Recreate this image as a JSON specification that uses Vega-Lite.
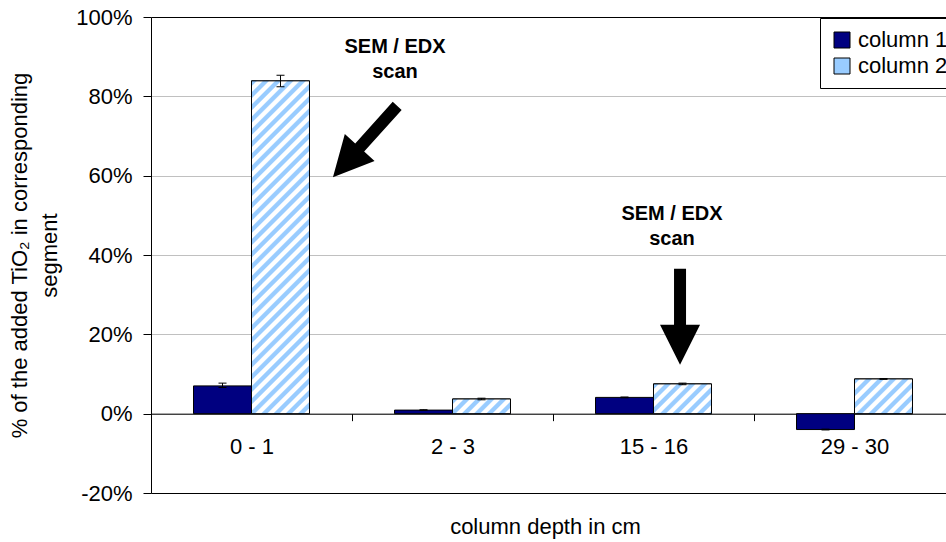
{
  "$schema": "https://vega.github.io/schema/vega-lite/v6.json",
  "width": 795,
  "height": 476,
  "autosize": {"type": "none"},
  "padding": {"left": 151, "top": 17, "right": 0, "bottom": 49},
  "background": "white",
  "config": {
    "font": "Liberation Sans",
    "view": {"stroke": null},
    "axis": {
      "labelFontSize": 22,
      "labelColor": "black",
      "titleFontSize": 22,
      "titleFontWeight": "normal",
      "titleColor": "black",
      "tickColor": "black",
      "domainColor": "black",
      "domainWidth": 1,
      "tickWidth": 1
    }
  },
  "datasets": {
    "bars": [
      {"depth": "0 - 1", "series": "column 1", "value": 0.070, "lo": 0.066, "hi": 0.077},
      {"depth": "0 - 1", "series": "column 2", "value": 0.839, "lo": 0.824, "hi": 0.853},
      {"depth": "2 - 3", "series": "column 1", "value": 0.009, "lo": 0.008, "hi": 0.010},
      {"depth": "2 - 3", "series": "column 2", "value": 0.037, "lo": 0.035, "hi": 0.039},
      {"depth": "15 - 16", "series": "column 1", "value": 0.041, "lo": 0.040, "hi": 0.042},
      {"depth": "15 - 16", "series": "column 2", "value": 0.075, "lo": 0.073, "hi": 0.077},
      {"depth": "29 - 30", "series": "column 1", "value": -0.040, "lo": -0.041, "hi": -0.039},
      {"depth": "29 - 30", "series": "column 2", "value": 0.0875, "lo": 0.0865, "hi": 0.0885}
    ],
    "notes": [
      {"depth": "0 - 1", "note": "SEM / EDX\nscan", "noteX": 1.214, "noteY": 0.910, "arrowX": 1.065, "arrowY": 0.686},
      {"depth": "15 - 16", "note": "SEM / EDX\nscan", "noteX": 2.592, "noteY": 0.487, "arrowX": 2.632, "arrowY": 0.2445}
    ]
  },
  "layer": [
    {
      "data": {"name": "bars"},
      "encoding": {
        "x": {
          "field": "depth", "type": "nominal",
          "sort": ["0 - 1", "2 - 3", "15 - 16", "29 - 30"],
          "scale": {"domain": ["0 - 1", "2 - 3", "15 - 16", "29 - 30"], "range": [0, 804], "paddingInner": 0, "paddingOuter": 0},
          "axis": {
            "title": "column depth in cm",
            "offset": -79.33,
            "tickBand": "extent",
            "tickSize": 7,
            "labelPadding": 15.6,
            "labelAngle": 0,
            "grid": false,
            "titleX": 394,
            "titleY": 120,
            "titleAlign": "center",
            "titleBaseline": "alphabetic"
          }
        },
        "xOffset": {
          "field": "series", "type": "nominal",
          "scale": {"domain": ["column 1", "column 2"], "paddingInner": 0, "paddingOuter": 0.7328}
        },
        "y": {
          "field": "value", "type": "quantitative",
          "scale": {"domain": [-0.2, 1], "nice": false, "zero": false},
          "axis": {
            "title": ["% of the added TiO₂ in corresponding", "segment"],
            "values": [-0.2, 0, 0.2, 0.4, 0.6, 0.8, 1],
            "labelExpr": "round(datum.value*100) + '%'",
            "grid": true,
            "gridColor": {"condition": {"test": "datum.value === 1 || datum.value === -0.2", "value": "black"}, "value": "#c0c0c0"},
            "tickSize": 8,
            "labelPadding": 11,
            "titlePadding": 14,
            "titleLineHeight": 30
          }
        }
      },
      "layer": [
        {
          "mark": {"type": "bar", "stroke": "black", "strokeWidth": 1},
          "encoding": {
            "color": {
              "field": "series", "type": "nominal",
              "scale": {"domain": ["column 1", "column 2"], "range": ["#000080", "#99ccff"]},
              "legend": {
                "orient": "none", "legendX": 669, "legendY": 1,
                "title": null,
                "strokeColor": "black", "fillColor": "white",
                "padding": 11,
                "labelFontSize": 22, "labelColor": "black",
                "symbolType": "square", "symbolSize": 256,
                "symbolStrokeColor": "black", "symbolStrokeWidth": 1,
                "symbolOpacity": 1,
                "rowPadding": 4, "labelOffset": 5
              }
            }
          }
        },
        {
          "transform": [{"filter": "datum.series === 'column 2' && datum.depth === '0 - 1'"}],
          "mark": {"type": "bar", "stroke": "black", "strokeWidth": 1, "fill": {"gradient": "linear", "x1": 0, "y1": 0, "x2": 0.19923, "y2": 1.14316, "stops": [
            {"offset":0,"color":"#9cf"},{"offset":0.0117,"color":"#9cf"},{"offset":0.0156,"color":"#fff"},{"offset":0.0273,"color":"#fff"},
            {"offset":0.0313,"color":"#9cf"},{"offset":0.043,"color":"#9cf"},{"offset":0.0469,"color":"#fff"},{"offset":0.0586,"color":"#fff"},
            {"offset":0.0625,"color":"#9cf"},{"offset":0.0742,"color":"#9cf"},{"offset":0.0781,"color":"#fff"},{"offset":0.0898,"color":"#fff"},
            {"offset":0.0938,"color":"#9cf"},{"offset":0.1055,"color":"#9cf"},{"offset":0.1094,"color":"#fff"},{"offset":0.1211,"color":"#fff"},
            {"offset":0.125,"color":"#9cf"},{"offset":0.1367,"color":"#9cf"},{"offset":0.1406,"color":"#fff"},{"offset":0.1523,"color":"#fff"},
            {"offset":0.1563,"color":"#9cf"},{"offset":0.168,"color":"#9cf"},{"offset":0.1719,"color":"#fff"},{"offset":0.1836,"color":"#fff"},
            {"offset":0.1875,"color":"#9cf"},{"offset":0.1992,"color":"#9cf"},{"offset":0.2031,"color":"#fff"},{"offset":0.2148,"color":"#fff"},
            {"offset":0.2188,"color":"#9cf"},{"offset":0.2305,"color":"#9cf"},{"offset":0.2344,"color":"#fff"},{"offset":0.2461,"color":"#fff"},
            {"offset":0.25,"color":"#9cf"},{"offset":0.2617,"color":"#9cf"},{"offset":0.2656,"color":"#fff"},{"offset":0.2773,"color":"#fff"},
            {"offset":0.2813,"color":"#9cf"},{"offset":0.293,"color":"#9cf"},{"offset":0.2969,"color":"#fff"},{"offset":0.3086,"color":"#fff"},
            {"offset":0.3125,"color":"#9cf"},{"offset":0.3242,"color":"#9cf"},{"offset":0.3281,"color":"#fff"},{"offset":0.3398,"color":"#fff"},
            {"offset":0.3438,"color":"#9cf"},{"offset":0.3555,"color":"#9cf"},{"offset":0.3594,"color":"#fff"},{"offset":0.3711,"color":"#fff"},
            {"offset":0.375,"color":"#9cf"},{"offset":0.3867,"color":"#9cf"},{"offset":0.3906,"color":"#fff"},{"offset":0.4023,"color":"#fff"},
            {"offset":0.4063,"color":"#9cf"},{"offset":0.418,"color":"#9cf"},{"offset":0.4219,"color":"#fff"},{"offset":0.4336,"color":"#fff"},
            {"offset":0.4375,"color":"#9cf"},{"offset":0.4492,"color":"#9cf"},{"offset":0.4531,"color":"#fff"},{"offset":0.4648,"color":"#fff"},
            {"offset":0.4688,"color":"#9cf"},{"offset":0.4805,"color":"#9cf"},{"offset":0.4844,"color":"#fff"},{"offset":0.4961,"color":"#fff"},
            {"offset":0.5,"color":"#9cf"},{"offset":0.5117,"color":"#9cf"},{"offset":0.5156,"color":"#fff"},{"offset":0.5273,"color":"#fff"},
            {"offset":0.5313,"color":"#9cf"},{"offset":0.543,"color":"#9cf"},{"offset":0.5469,"color":"#fff"},{"offset":0.5586,"color":"#fff"},
            {"offset":0.5625,"color":"#9cf"},{"offset":0.5742,"color":"#9cf"},{"offset":0.5781,"color":"#fff"},{"offset":0.5898,"color":"#fff"},
            {"offset":0.5938,"color":"#9cf"},{"offset":0.6055,"color":"#9cf"},{"offset":0.6094,"color":"#fff"},{"offset":0.6211,"color":"#fff"},
            {"offset":0.625,"color":"#9cf"},{"offset":0.6367,"color":"#9cf"},{"offset":0.6406,"color":"#fff"},{"offset":0.6523,"color":"#fff"},
            {"offset":0.6563,"color":"#9cf"},{"offset":0.668,"color":"#9cf"},{"offset":0.6719,"color":"#fff"},{"offset":0.6836,"color":"#fff"},
            {"offset":0.6875,"color":"#9cf"},{"offset":0.6992,"color":"#9cf"},{"offset":0.7031,"color":"#fff"},{"offset":0.7148,"color":"#fff"},
            {"offset":0.7188,"color":"#9cf"},{"offset":0.7305,"color":"#9cf"},{"offset":0.7344,"color":"#fff"},{"offset":0.7461,"color":"#fff"},
            {"offset":0.75,"color":"#9cf"},{"offset":0.7617,"color":"#9cf"},{"offset":0.7656,"color":"#fff"},{"offset":0.7773,"color":"#fff"},
            {"offset":0.7813,"color":"#9cf"},{"offset":0.793,"color":"#9cf"},{"offset":0.7969,"color":"#fff"},{"offset":0.8086,"color":"#fff"},
            {"offset":0.8125,"color":"#9cf"},{"offset":0.8242,"color":"#9cf"},{"offset":0.8281,"color":"#fff"},{"offset":0.8398,"color":"#fff"},
            {"offset":0.8438,"color":"#9cf"},{"offset":0.8555,"color":"#9cf"},{"offset":0.8594,"color":"#fff"},{"offset":0.8711,"color":"#fff"},
            {"offset":0.875,"color":"#9cf"},{"offset":0.8867,"color":"#9cf"},{"offset":0.8906,"color":"#fff"},{"offset":0.9023,"color":"#fff"},
            {"offset":0.9063,"color":"#9cf"},{"offset":0.918,"color":"#9cf"},{"offset":0.9219,"color":"#fff"},{"offset":0.9336,"color":"#fff"},
            {"offset":0.9375,"color":"#9cf"},{"offset":0.9492,"color":"#9cf"},{"offset":0.9531,"color":"#fff"},{"offset":0.9648,"color":"#fff"},
            {"offset":0.9688,"color":"#9cf"},{"offset":0.9805,"color":"#9cf"},{"offset":0.9844,"color":"#fff"},{"offset":0.9961,"color":"#fff"},
            {"offset":1,"color":"#9cf"}
          ]}}
        },
        {
          "transform": [{"filter": "datum.series === 'column 2' && datum.depth === '2 - 3'"}],
          "mark": {"type": "bar", "stroke": "black", "strokeWidth": 1, "fill": {"gradient": "linear", "x1": 0, "y1": 0, "x2": 6.3517, "y2": 1.6077, "stops": [
            {"offset":0,"color":"#9cf"},{"offset":0.0117,"color":"#9cf"},{"offset":0.0156,"color":"#fff"},{"offset":0.0273,"color":"#fff"},
            {"offset":0.0313,"color":"#9cf"},{"offset":0.043,"color":"#9cf"},{"offset":0.0469,"color":"#fff"},{"offset":0.0586,"color":"#fff"},
            {"offset":0.0625,"color":"#9cf"},{"offset":0.0742,"color":"#9cf"},{"offset":0.0781,"color":"#fff"},{"offset":0.0898,"color":"#fff"},
            {"offset":0.0938,"color":"#9cf"},{"offset":0.1055,"color":"#9cf"},{"offset":0.1094,"color":"#fff"},{"offset":0.1211,"color":"#fff"},
            {"offset":0.125,"color":"#9cf"},{"offset":0.1367,"color":"#9cf"},{"offset":0.1406,"color":"#fff"},{"offset":0.1523,"color":"#fff"},
            {"offset":0.1563,"color":"#9cf"},{"offset":0.168,"color":"#9cf"},{"offset":0.1719,"color":"#fff"},{"offset":0.1836,"color":"#fff"},
            {"offset":0.1875,"color":"#9cf"},{"offset":0.1992,"color":"#9cf"},{"offset":0.2031,"color":"#fff"},{"offset":0.2148,"color":"#fff"},
            {"offset":0.2188,"color":"#9cf"},{"offset":0.2305,"color":"#9cf"},{"offset":0.2344,"color":"#fff"},{"offset":0.2461,"color":"#fff"},
            {"offset":0.25,"color":"#9cf"}
          ]}}
        },
        {
          "transform": [{"filter": "datum.series === 'column 2' && datum.depth === '15 - 16'"}],
          "mark": {"type": "bar", "stroke": "black", "strokeWidth": 1, "fill": {"gradient": "linear", "x1": 0, "y1": 0, "x2": 5.3507, "y2": 2.7446, "stops": [
            {"offset":0,"color":"#9cf"},{"offset":0.0117,"color":"#9cf"},{"offset":0.0156,"color":"#fff"},{"offset":0.0273,"color":"#fff"},
            {"offset":0.0313,"color":"#9cf"},{"offset":0.043,"color":"#9cf"},{"offset":0.0469,"color":"#fff"},{"offset":0.0586,"color":"#fff"},
            {"offset":0.0625,"color":"#9cf"},{"offset":0.0742,"color":"#9cf"},{"offset":0.0781,"color":"#fff"},{"offset":0.0898,"color":"#fff"},
            {"offset":0.0938,"color":"#9cf"},{"offset":0.1055,"color":"#9cf"},{"offset":0.1094,"color":"#fff"},{"offset":0.1211,"color":"#fff"},
            {"offset":0.125,"color":"#9cf"},{"offset":0.1367,"color":"#9cf"},{"offset":0.1406,"color":"#fff"},{"offset":0.1523,"color":"#fff"},
            {"offset":0.1563,"color":"#9cf"},{"offset":0.168,"color":"#9cf"},{"offset":0.1719,"color":"#fff"},{"offset":0.1836,"color":"#fff"},
            {"offset":0.1875,"color":"#9cf"},{"offset":0.1992,"color":"#9cf"},{"offset":0.2031,"color":"#fff"},{"offset":0.2148,"color":"#fff"},
            {"offset":0.2188,"color":"#9cf"},{"offset":0.2305,"color":"#9cf"},{"offset":0.2344,"color":"#fff"},{"offset":0.2461,"color":"#fff"},
            {"offset":0.25,"color":"#9cf"}
          ]}}
        },
        {
          "transform": [{"filter": "datum.series === 'column 2' && datum.depth === '29 - 30'"}],
          "mark": {"type": "bar", "stroke": "black", "strokeWidth": 1, "fill": {"gradient": "linear", "x1": 0, "y1": 0, "x2": 4.9763, "y2": 2.978, "stops": [
            {"offset":0,"color":"#9cf"},{"offset":0.0117,"color":"#9cf"},{"offset":0.0156,"color":"#fff"},{"offset":0.0273,"color":"#fff"},
            {"offset":0.0313,"color":"#9cf"},{"offset":0.043,"color":"#9cf"},{"offset":0.0469,"color":"#fff"},{"offset":0.0586,"color":"#fff"},
            {"offset":0.0625,"color":"#9cf"},{"offset":0.0742,"color":"#9cf"},{"offset":0.0781,"color":"#fff"},{"offset":0.0898,"color":"#fff"},
            {"offset":0.0938,"color":"#9cf"},{"offset":0.1055,"color":"#9cf"},{"offset":0.1094,"color":"#fff"},{"offset":0.1211,"color":"#fff"},
            {"offset":0.125,"color":"#9cf"},{"offset":0.1367,"color":"#9cf"},{"offset":0.1406,"color":"#fff"},{"offset":0.1523,"color":"#fff"},
            {"offset":0.1563,"color":"#9cf"},{"offset":0.168,"color":"#9cf"},{"offset":0.1719,"color":"#fff"},{"offset":0.1836,"color":"#fff"},
            {"offset":0.1875,"color":"#9cf"},{"offset":0.1992,"color":"#9cf"},{"offset":0.2031,"color":"#fff"},{"offset":0.2148,"color":"#fff"},
            {"offset":0.2188,"color":"#9cf"},{"offset":0.2305,"color":"#9cf"},{"offset":0.2344,"color":"#fff"},{"offset":0.2461,"color":"#fff"},
            {"offset":0.25,"color":"#9cf"}
          ]}}
        },
        {
          "mark": {"type": "rule", "color": "black", "strokeWidth": 1},
          "encoding": {
            "y": {"field": "lo", "type": "quantitative"},
            "y2": {"field": "hi"}
          }
        },
        {
          "mark": {"type": "tick", "orient": "horizontal", "size": 8, "thickness": 1, "color": "black", "opacity": 1},
          "encoding": {"y": {"field": "lo", "type": "quantitative"}}
        },
        {
          "mark": {"type": "tick", "orient": "horizontal", "size": 8, "thickness": 1, "color": "black", "opacity": 1},
          "encoding": {"y": {"field": "hi", "type": "quantitative"}}
        }
      ]
    },
    {
      "data": {"name": "notes"},
      "encoding": {
        "x": {"field": "noteX", "type": "quantitative", "scale": {"domain": [0, 4], "range": [0, 804], "nice": false, "zero": false}, "axis": null},
        "y": {"field": "noteY", "type": "quantitative", "scale": {"domain": [-0.2, 1], "nice": false, "zero": false}}
      },
      "layer": [
        {
          "mark": {"type": "text", "fontSize": 20, "fontWeight": "bold", "align": "center", "baseline": "alphabetic", "lineBreak": "\n", "lineHeight": 25, "color": "black"},
          "encoding": {"text": {"field": "note"}}
        },
        {
          "transform": [{"filter": "datum.depth === '0 - 1'"}],
          "mark": {"type": "point", "shape": "M-0.125,-1L0.125,-1L0.125,0.167L0.417,0.167L0,1L-0.417,0.167L-0.125,0.167Z", "size": 9216, "angle": 42, "filled": true, "color": "black", "opacity": 1, "strokeWidth": 0},
          "encoding": {
            "x": {"field": "arrowX", "type": "quantitative", "axis": null},
            "y": {"field": "arrowY", "type": "quantitative"}
          }
        },
        {
          "transform": [{"filter": "datum.depth === '15 - 16'"}],
          "mark": {"type": "point", "shape": "M-0.125,-1L0.125,-1L0.125,0.167L0.417,0.167L0,1L-0.417,0.167L-0.125,0.167Z", "size": 9216, "angle": 0, "filled": true, "color": "black", "opacity": 1, "strokeWidth": 0},
          "encoding": {
            "x": {"field": "arrowX", "type": "quantitative", "axis": null},
            "y": {"field": "arrowY", "type": "quantitative"}
          }
        }
      ]
    }
  ],
  "resolve": {"scale": {"x": "independent"}, "axis": {"x": "independent"}}
}
